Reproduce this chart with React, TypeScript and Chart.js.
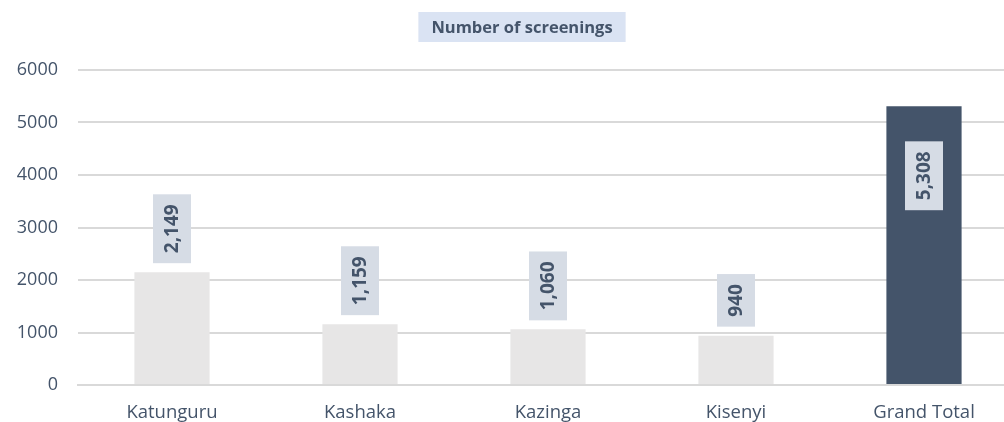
import React, { useEffect, useRef } from "react";
import { Chart, registerables } from "chart.js";

Chart.register(...registerables);

const categories = ["Katunguru", "Kashaka", "Kazinga", "Kisenyi", "Grand Total"];
const screenings = [2149, 1159, 1060, 940, 5308];
const yTicks = [0, 1000, 2000, 3000, 4000, 5000, 6000];
const title = "Number of screenings";

const FONT = "'Open Sans', sans-serif";
const SLATE = "#44546a";

const labelPlugin = {
  id: "valueLabels",
  afterDatasetsDraw(chart: any) {
    const ctx = chart.ctx;
    const meta = chart.getDatasetMeta(0);
    ctx.save();
    ctx.font = `bold 19px ${FONT}`;
    meta.data.forEach((bar: any, i: number) => {
      const v = screenings[i];
      const text = v.toLocaleString("en-US");
      const tw = ctx.measureText(text).width;
      const bw = 38;
      const bh = tw + 20;
      const inside = i === screenings.length - 1;
      let top: number;
      if (inside) top = bar.y + 35;
      else top = bar.y - 9 - bh;
      const left = bar.x - bw / 2;
      ctx.fillStyle = "#d6dce5";
      ctx.fillRect(left, top, bw, bh);
      ctx.translate(bar.x, top + bh / 2);
      ctx.rotate(-Math.PI / 2);
      ctx.fillStyle = SLATE;
      ctx.textAlign = "center";
      ctx.textBaseline = "middle";
      ctx.fillText(text, 0, 1);
      ctx.setTransform(1, 0, 0, 1, 0, 0);
    });
    ctx.restore();
  },
};

const titlePlugin = {
  id: "boxTitle",
  afterDraw(chart: any) {
    const ctx = chart.ctx;
    ctx.save();
    ctx.font = `bold 16.5px ${FONT}`;
    const tw = ctx.measureText(title).width;
    const cx = 522;
    const cy = 27;
    const w = tw + 26;
    const h = 30;
    ctx.fillStyle = "#dae3f3";
    ctx.fillRect(cx - w / 2, cy - h / 2, w, h);
    ctx.fillStyle = SLATE;
    ctx.textAlign = "center";
    ctx.textBaseline = "middle";
    ctx.fillText(title, cx, cy + 1);
    ctx.restore();
  },
};

export default function App() {
  const ref = useRef<HTMLCanvasElement>(null);
  useEffect(() => {
    if (!ref.current) return;
    const chart = new Chart(ref.current, {
      type: "bar",
      data: {
        labels: categories,
        datasets: [
          {
            data: screenings,
            backgroundColor: screenings.map((_, i) => (i === screenings.length - 1 ? "#44546a" : "#e7e6e6")),
            barPercentage: 1,
            categoryPercentage: 0.4,
          },
        ],
      },
      options: {
        animation: false,
        responsive: false,
        devicePixelRatio: 1,
        layout: { padding: { top: 70, right: 12, left: 0, bottom: 0 } },
        plugins: { legend: { display: false }, tooltip: { enabled: false }, title: { display: false } },
        scales: {
          x: {
            grid: { display: false },
            border: { color: "#d9d9d9", width: 2 },
            ticks: { color: SLATE, font: { family: FONT, size: 18.5 }, padding: 9 },
            afterFit(scale: any) {
              scale.height = 37;
            },
          },
          y: {
            min: 0,
            max: 6000,
            afterBuildTicks(scale: any) {
              scale.ticks = yTicks.map((v) => ({ value: v }));
            },
            afterFit(scale: any) {
              scale.width = 78;
            },
            grid: { color: "#d9d9d9", lineWidth: 2, drawTicks: false },
            border: { display: false },
            ticks: {
              color: SLATE,
              font: { family: FONT, size: 18 },
              padding: 20,
              callback: (v: any) => String(v),
            },
          },
        },
      },
      plugins: [labelPlugin, titlePlugin],
    });
    return () => chart.destroy();
  }, []);
  return (
    <div style={{ position: "fixed", left: 0, top: 0, width: 1004, height: 422, overflow: "hidden", background: "#fff" }}>
      <canvas ref={ref} width={1030} height={422} style={{ display: "block" }} />
    </div>
  );
}
